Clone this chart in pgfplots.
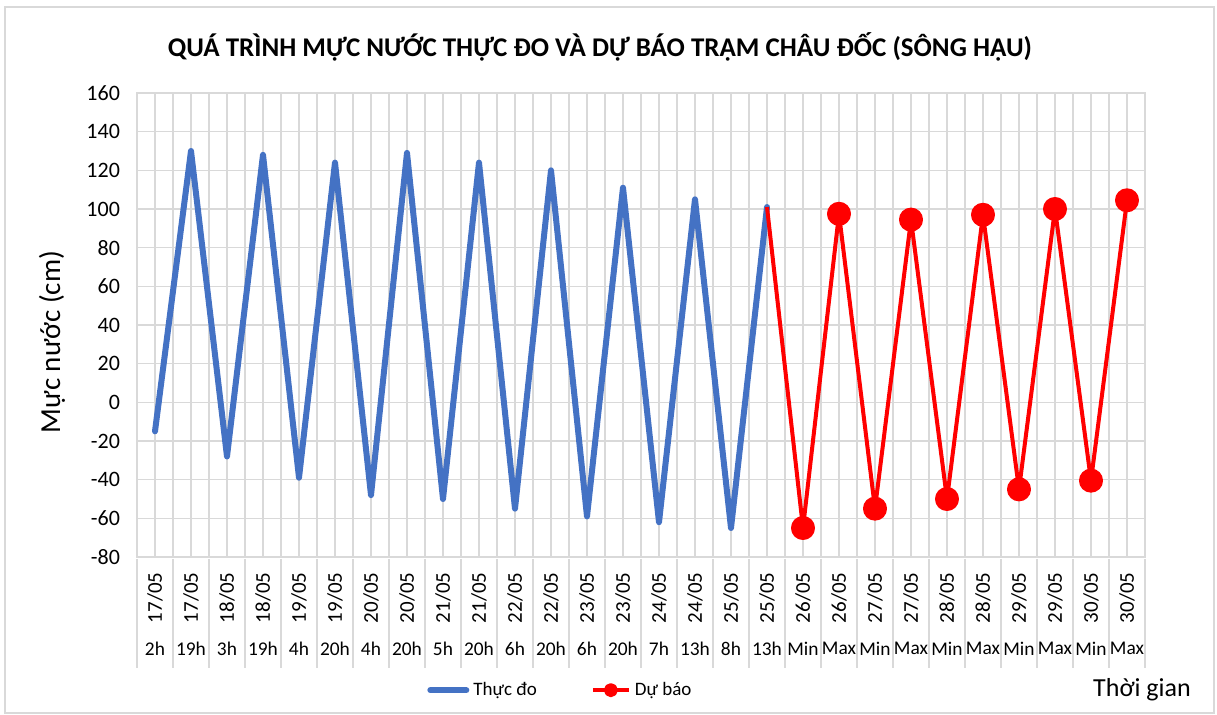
\documentclass[border=0pt]{standalone}
\usepackage{fontspec}
\setmainfont{Carlito}
\usepackage{pgfplots}
\pgfplotsset{compat=1.18}
\definecolor{cblue}{HTML}{4472C4}
\definecolor{cgrid}{HTML}{D9D9D9}
\begin{document}
\begin{tikzpicture}
\begin{axis}[
  at={(0,0)}, anchor=south west,
  scale only axis, width=504pt, height=232pt,
  xmin=-0.5, xmax=27.5, ymin=-80, ymax=160,
  ytick={-80,-60,...,160},
  xtick={0,...,27},
  xticklabels={2h,19h,3h,19h,4h,20h,4h,20h,5h,20h,6h,20h,6h,20h,7h,13h,8h,13h,Min,Max,Min,Max,Min,Max,Min,Max,Min,Max},
  xticklabel style={anchor=north, inner sep=0pt, font=\fontsize{9.7}{11}\selectfont},
  xticklabel shift=42.5pt,
  extra x ticks={0,...,27},
  extra x tick labels={17/05,17/05,18/05,18/05,19/05,19/05,20/05,20/05,21/05,21/05,22/05,22/05,23/05,23/05,24/05,24/05,25/05,25/05,26/05,26/05,27/05,27/05,28/05,28/05,29/05,29/05,30/05,30/05},
  extra x tick style={grid=none, xticklabel style={rotate=90, anchor=east, font=\fontsize{10.5}{12}\selectfont}, xticklabel shift=7.5pt},
  minor x tick num=1,
  xmajorgrids, xminorgrids, ymajorgrids,
  grid style={cgrid, line width=0.6pt},
  minor grid style={cgrid, line width=0.6pt},
  major tick length=0pt, minor tick length=0pt,
  axis line style={cgrid, line width=0.8pt},
  yticklabel style={font=\fontsize{11}{12}\selectfont, xshift=-5pt},
  /pgf/number format/assume math mode=true,
  clip=false,
  legend style={at={(0.421,-0.287)}, anchor=center, legend columns=2, draw=none, fill=none,
    font=\fontsize{9.5}{11}\selectfont, /tikz/every even column/.append style={column sep=25pt}},
  legend cell align=left,
]
\addplot[cblue, line width=3pt, line join=round, line cap=round,
  legend image code/.code={\draw[cblue, line width=3pt, line cap=round] (0pt,0pt)--(18pt,0pt);}]
  coordinates {(0,-15)(1,130)(2,-28)(3,128)(4,-39)(5,124)(6,-48)(7,129)(8,-50)(9,124)(10,-55)(11,120)(12,-59)(13,111)(14,-62)(15,105)(16,-65)(17,101)};
\addlegendentry{Thực đo}
\addplot[red, line width=2pt, line join=round,
  mark=*, mark size=5pt, mark options={fill=red, draw=red},
  legend image code/.code={\draw[red, line width=2pt] (0pt,0pt)--(18pt,0pt); \fill[red] (9pt,0pt) circle (2.5pt);}]
  coordinates {(18,-65)(19,97.5)(20,-55)(21,94.5)(22,-50)(23,97)(24,-45)(25,100)(26,-40.5)(27,104.5)};
\addlegendentry{Dự báo}
\addplot[red, line width=2pt, forget plot] coordinates {(17,101)(18,-65)};
\pgfplotsinvokeforeach{-0.5,0.5,...,27.5}{
  \draw[cgrid, line width=1pt] ([yshift=-1pt]axis cs:#1,-80) -- ([yshift=-55.5pt]axis cs:#1,-80);
}
\end{axis}
\node[font=\fontsize{13.5}{16}\selectfont\bfseries] at (231.5pt,255pt) {QUÁ TRÌNH MỰC NƯỚC THỰC ĐO VÀ DỰ BÁO TRẠM CHÂU ĐỐC (SÔNG HẬU)};
\node[rotate=90, font=\fontsize{14.5}{16}\selectfont] at (-42.5pt,107.5pt) {Mực nước (cm)};
\node[font=\fontsize{13}{15}\selectfont] at (502.5pt,-66.5pt) {Thời gian};
\draw[cgrid, line width=1.2pt] (-66pt,-78pt) rectangle (538.5pt,275pt);
\path[use as bounding box] (-68.5pt,-79pt) rectangle (540pt,278.5pt);
\end{tikzpicture}
\end{document}
